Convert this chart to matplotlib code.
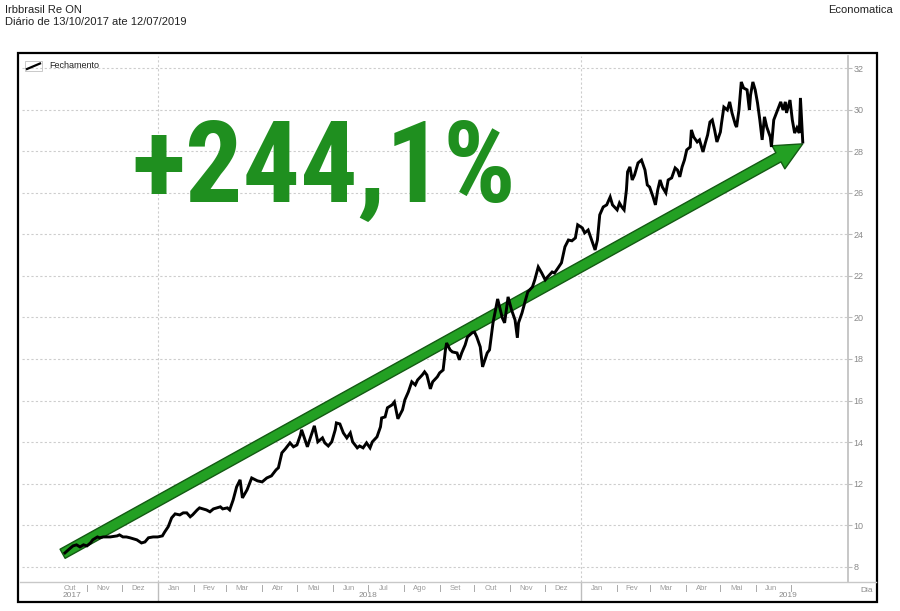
import datetime as dt
import matplotlib
matplotlib.use("Agg")
import matplotlib.pyplot as plt
import matplotlib.dates as mdates
from matplotlib.patches import Rectangle, FancyArrowPatch, ArrowStyle
from matplotlib.lines import Line2D
from matplotlib import font_manager

# ---------------- data ----------------
title = "Irbbrasil Re ON"
subtitle = "Diário de 13/10/2017 ate 12/07/2019"
source = "Economatica"
series_name = "Fechamento"
headline = "+244,1%"
start_date = dt.date(2017, 10, 13)

# days since 13/10/2017
days = [0,4,7,10,13,16,19,22,24,28,30,33,39,45,47,50,53,56,59,62,66,69,72,76,80,84,86,89,92,95,
        99,102,105,108,110,114,116,119,122,125,128,131,134,136,140,142,145,148,151,153,157,161,166,170,174,178,182,184,187,190,
        194,197,200,203,204,207,209,213,215,218,222,224,227,230,233,234,237,240,243,246,248,252,254,257,260,263,265,269,272,273,
        276,278,282,284,287,291,293,296,299,302,304,308,310,312,315,317,321,323,326,328,329,332,334,338,340,342,345,347,351,353,
        355,358,360,364,366,369,373,377,379,382,385,388,390,391,394,397,399,403,405,408,411,414,416,420,422,425,428,431,434,437,
        440,442,446,448,451,454,457,459,461,464,467,470,472,476,478,480,482,484,485,487,489,491,494,497,500,502,504,507,509,511,
        513,515,518,520,523,526,528,530,532,534,536,539,540,542,545,547,550,552,554,556,558,560,562,565,566,568,571,573,575,578,
        579,581,583,585,588,590,591,593,595,597,599,601,603,605,608,609,611,615,617,619,621,622,625,627,629,631,633,634,636]

close = [8.66,8.86,9.00,9.05,8.95,9.05,9.00,9.14,9.29,9.43,9.39,9.43,9.43,9.48,9.53,9.43,9.43,9.39,9.34,9.29,
         9.14,9.19,9.39,9.43,9.43,9.48,9.67,9.92,10.35,10.54,10.49,10.59,10.59,10.40,10.49,10.73,10.83,10.78,10.73,10.64,
         10.78,10.83,10.88,10.78,10.83,10.73,11.21,11.84,12.18,11.31,11.70,12.27,12.13,12.08,12.27,12.37,12.66,12.76,13.48,13.67,
         13.96,13.77,13.86,14.34,14.59,14.10,13.77,14.44,14.78,14.01,14.20,13.96,13.81,14.01,14.59,14.92,14.87,14.44,14.20,14.44,
         14.01,13.72,13.81,13.72,13.96,13.72,14.01,14.25,14.73,15.16,15.21,15.65,15.79,15.93,15.12,15.55,16.03,16.41,16.90,16.75,
         16.99,17.23,17.38,17.23,16.56,16.90,17.14,17.33,17.47,18.44,18.77,18.44,18.34,18.29,17.96,18.29,18.68,19.06,19.26,19.30,
         19.06,18.58,17.62,18.29,18.44,19.74,20.89,19.98,19.74,20.99,20.36,19.88,19.02,19.74,20.22,20.84,21.23,21.47,21.81,22.43,
         22.14,21.81,21.95,22.19,22.14,22.38,22.63,23.40,23.73,23.69,23.83,24.46,24.31,24.07,24.21,23.73,23.25,23.73,24.94,25.32,
         25.42,25.80,25.42,25.18,25.51,25.32,25.18,26.14,27.01,27.25,26.62,26.86,27.44,27.58,27.10,26.38,26.28,25.80,25.42,26.14,
         26.62,26.28,26.00,26.62,26.72,27.20,27.10,26.77,27.25,27.58,28.07,28.21,29.03,28.69,28.45,28.55,27.97,28.40,28.79,29.41,
         29.51,29.03,28.45,28.93,29.36,30.13,29.99,30.38,29.85,29.27,29.17,29.99,31.34,31.05,30.96,29.99,30.71,31.34,30.96,30.33,
         29.51,28.55,29.66,29.17,28.69,28.21,29.51,30.09,30.38,29.99,30.38,29.85,30.47,29.51,28.88,29.13,28.88,30.57,28.45]

y_ticks = [8, 10, 12, 14, 16, 18, 20, 22, 24, 26, 28, 30, 32]
month_names = ["Out", "Nov", "Dez", "Jan", "Fev", "Mar", "Abr", "Mai", "Jun", "Jul", "Ago", "Set",
               "Out", "Nov", "Dez", "Jan", "Fev", "Mar", "Abr", "Mai", "Jun"]
month_label_dates = ["2017-10-17", "2017-11-15", "2017-12-15", "2018-01-15", "2018-02-14", "2018-03-15",
                     "2018-04-15", "2018-05-15", "2018-06-15", "2018-07-15", "2018-08-15", "2018-09-15",
                     "2018-10-15", "2018-11-15", "2018-12-15", "2019-01-15", "2019-02-14", "2019-03-15",
                     "2019-04-15", "2019-05-15", "2019-06-14"]
month_tick_dates = ["2017-11-01", "2017-12-01", "2018-02-01", "2018-03-01", "2018-04-01", "2018-05-01",
                    "2018-06-01", "2018-07-01", "2018-08-01", "2018-09-01", "2018-10-01", "2018-11-01",
                    "2018-12-01", "2019-02-01", "2019-03-01", "2019-04-01", "2019-05-01", "2019-06-01",
                    "2019-07-01"]
year_names = ["2017", "2018", "2019"]
year_label_dates = ["2017-10-19", "2018-07-01", "2019-06-28"]
year_sep_dates = ["2018-01-01", "2019-01-01"]
arrow_start = ("2017-10-11", 8.62)
arrow_end = ("2019-07-11", 28.36)
x_range = ("2017-09-06", "2019-08-19")
y_range = (7.26, 32.59)

# ---------------- fonts ----------------
available = {f.name for f in font_manager.fontManager.ttflist}
base_font = "Liberation Sans" if "Liberation Sans" in available else "DejaVu Sans"
narrow_candidates = ["Liberation Sans Narrow", "Arial Narrow", "Roboto Condensed",
                     "Open Sans Condensed", "Nimbus Sans Narrow", "DejaVu Sans Condensed",
                     "Noto Sans Condensed"]
big_font = next((f for f in narrow_candidates if f in available), None)
big_stretch = "normal"
if big_font is None:
    cond = [f for f in font_manager.fontManager.ttflist
            if str(f.stretch) in ("condensed", "semi-condensed", "extra-condensed")]
    if cond:
        big_font = cond[0].name
        big_stretch = cond[0].stretch
narrow_found = big_font is not None
if big_font is None:
    big_font = base_font
plt.rcParams["font.family"] = [base_font, "DejaVu Sans"]

def D(s):
    return mdates.date2num(dt.date.fromisoformat(s))

dates = [start_date + dt.timedelta(days=d) for d in days]

W, H = 900, 611
fig = plt.figure(figsize=(9, 6.11), dpi=100)

def fx(px):
    return px / W

def fy(py):
    return 1 - py / H

ax = fig.add_axes([fx(22), fy(582), fx(848) - fx(22), fy(56) - fy(582)])
ax.set_xlim(D(x_range[0]), D(x_range[1]))
ax.set_ylim(*y_range)

grid_col = "#cdcdcd"
for v in y_ticks:
    ax.axhline(v, color=grid_col, lw=0.8, ls=(0, (2, 2)), zorder=1)
for s in year_sep_dates:
    ax.axvline(D(s), color=grid_col, lw=0.8, ls=(0, (2, 2)), zorder=1)

for sp in ["top", "left", "bottom"]:
    ax.spines[sp].set_visible(False)
ax.spines["right"].set_color("#bdbdbd")
ax.spines["right"].set_linewidth(1.2)
ax.yaxis.tick_right()
ax.set_yticks(y_ticks)
ax.set_yticklabels([str(v) for v in y_ticks])
ax.tick_params(axis="y", length=3, width=0.8, color="#bdbdbd", labelsize=6.5,
               labelcolor="#8a8a8a", pad=1)
ax.set_xticks([])

# arrow
arrow = FancyArrowPatch((D(arrow_start[0]), arrow_start[1]), (D(arrow_end[0]), arrow_end[1]),
                        arrowstyle=ArrowStyle.Simple(head_length=20, head_width=19, tail_width=7.5),
                        mutation_scale=1, shrinkA=0, shrinkB=0,
                        facecolor="#23a023", edgecolor="#135a13", lw=1.0, zorder=3)
ax.add_patch(arrow)

ax.plot(mdates.date2num(dates), close, color="black", lw=2.1, zorder=4, solid_joinstyle="miter")

# x axis labels
xt = ax.get_xaxis_transform()
lab_col = "#9a9a9a"
for name, d in zip(month_names, month_label_dates):
    ax.text(D(d), -0.012, name, transform=xt, ha="center", va="center", fontsize=5.5,
            color=lab_col, clip_on=False)
for d in month_tick_dates:
    ax.plot([D(d), D(d)], [-0.006, -0.017], transform=xt, color="#aaaaaa", lw=0.7, clip_on=False)
for s in year_sep_dates:
    ax.plot([D(s), D(s)], [0, -0.037], transform=xt, color="#bdbdbd", lw=1.0, clip_on=False)
for name, d in zip(year_names, year_label_dates):
    ax.text(D(d), -0.026, name, transform=xt, ha="center", va="center", fontsize=6,
            color="#8a8a8a", clip_on=False)

# horizontal axis line across the frame
fig.add_artist(Line2D([fx(20), fx(876)], [fy(582), fy(582)], color="#c8c8c8", lw=1.0))
fig.text(fx(867), fy(590), "Dia", ha="center", va="center", fontsize=6, color="#8a8a8a")

# frame
fig.add_artist(Rectangle((fx(18), fy(602)), fx(877) - fx(18), fy(53) - fy(602),
                         fill=False, edgecolor="black", lw=1.6))

# legend
fig.add_artist(Rectangle((fx(25), fy(71)), fx(17), fy(61) - fy(71), fill=False,
                         edgecolor="#c0c0c0", lw=0.6))
fig.add_artist(Line2D([fx(27), fx(40)], [fy(69), fy(63.5)], color="black", lw=1.6))
fig.text(fx(49), fy(65), series_name, ha="left", va="center", fontsize=6.5, color="#222222")

# titles
fig.text(fx(5), fy(10), title, ha="left", va="center", fontsize=8, color="#222222")
fig.text(fx(5), fy(22), subtitle, ha="left", va="center", fontsize=8, color="#222222")
fig.text(fx(893), fy(10), source, ha="right", va="center", fontsize=8, color="#222222")

# headline
head = fig.text(fx(324), fy(202), headline, ha="center", va="baseline", fontsize=90,
                fontweight="bold", fontstretch=big_stretch,
                family=[big_font, "DejaVu Sans"], color="#1f8f1f")
fig.canvas.draw()
w = head.get_window_extent().width
target_w = 385 if narrow_found else 420
head.set_fontsize(90 * target_w / w)

fig.savefig("out.png", dpi=100)
